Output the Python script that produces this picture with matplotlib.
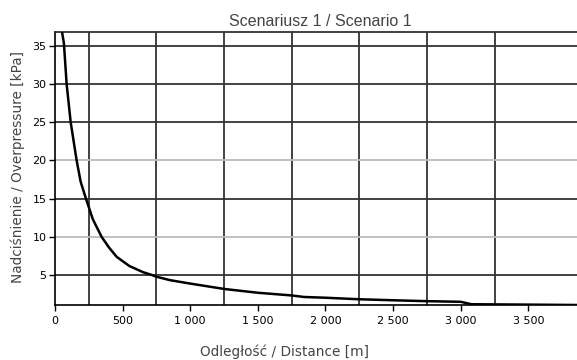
import matplotlib.pyplot as plt
from matplotlib.ticker import FuncFormatter, FixedLocator

distance = [52, 66, 86, 116, 160, 190, 229, 280, 345, 400, 456, 550, 650, 720, 750, 850,
            1000, 1250, 1500, 1750, 1840, 2000, 2250, 2500, 2750, 3000, 3080, 3500, 3860]
overpressure = [36.8, 35.3, 30.0, 25.0, 20.0, 17.2, 15.0, 12.3, 10.0, 8.6, 7.4, 6.2, 5.4, 5.0, 4.8, 4.35,
                3.9, 3.2, 2.7, 2.35, 2.15, 2.05, 1.85, 1.72, 1.6, 1.52, 1.2, 1.15, 1.1]

x_ticks = [0, 500, 1000, 1500, 2000, 2500, 3000, 3500]
x_grid = [250, 750, 1250, 1750, 2250, 2750, 3250]
y_ticks = [5, 10, 15, 20, 25, 30, 35]
light_y = [10, 20]

fig = plt.figure(figsize=(5.77, 3.6), dpi=100)
ax = fig.add_axes([55 / 577, 55 / 360, 522 / 577, 273 / 360])

for xg in x_grid:
    ax.axvline(xg, color="#333333", lw=1.3, zorder=1)
for yg in y_ticks:
    c = "#bbbbbb" if yg in light_y else "#333333"
    ax.axhline(yg, color=c, lw=1.3, zorder=1)

ax.plot(distance, overpressure, color="black", lw=1.8, zorder=3)

ax.set_xlim(0, 3860)
ax.set_ylim(1.1, 36.8)
ax.xaxis.set_major_locator(FixedLocator(x_ticks))
ax.yaxis.set_major_locator(FixedLocator(y_ticks))
ax.xaxis.set_major_formatter(FuncFormatter(lambda v, p: f"{int(v):,}".replace(",", " ")))
ax.tick_params(axis="both", direction="out", length=4, width=1, labelsize=8,
               colors="black", pad=2)
ax.tick_params(axis="x", pad=4)

ax.spines["right"].set_visible(False)
ax.spines["top"].set_color("#333333")
ax.spines["top"].set_linewidth(1.3)
ax.spines["left"].set_linewidth(1.2)
ax.spines["bottom"].set_linewidth(1.2)

fig.text(320 / 577, 1 - 21 / 360, "Scenariusz 1 / Scenario 1", ha="center", va="center",
         fontsize=11.5, color="#444444", family="Liberation Sans")
fig.text(284 / 577, 1 - 352 / 360, "Odległość / Distance [m]", ha="center", va="center",
         fontsize=9.8, color="#444444")
fig.text(18 / 577, 1 - 167 / 360, "Nadciśnienie / Overpressure [kPa]", ha="center", va="center",
         rotation=90, fontsize=9.8, color="#444444")

fig.savefig("out.png", dpi=100)
